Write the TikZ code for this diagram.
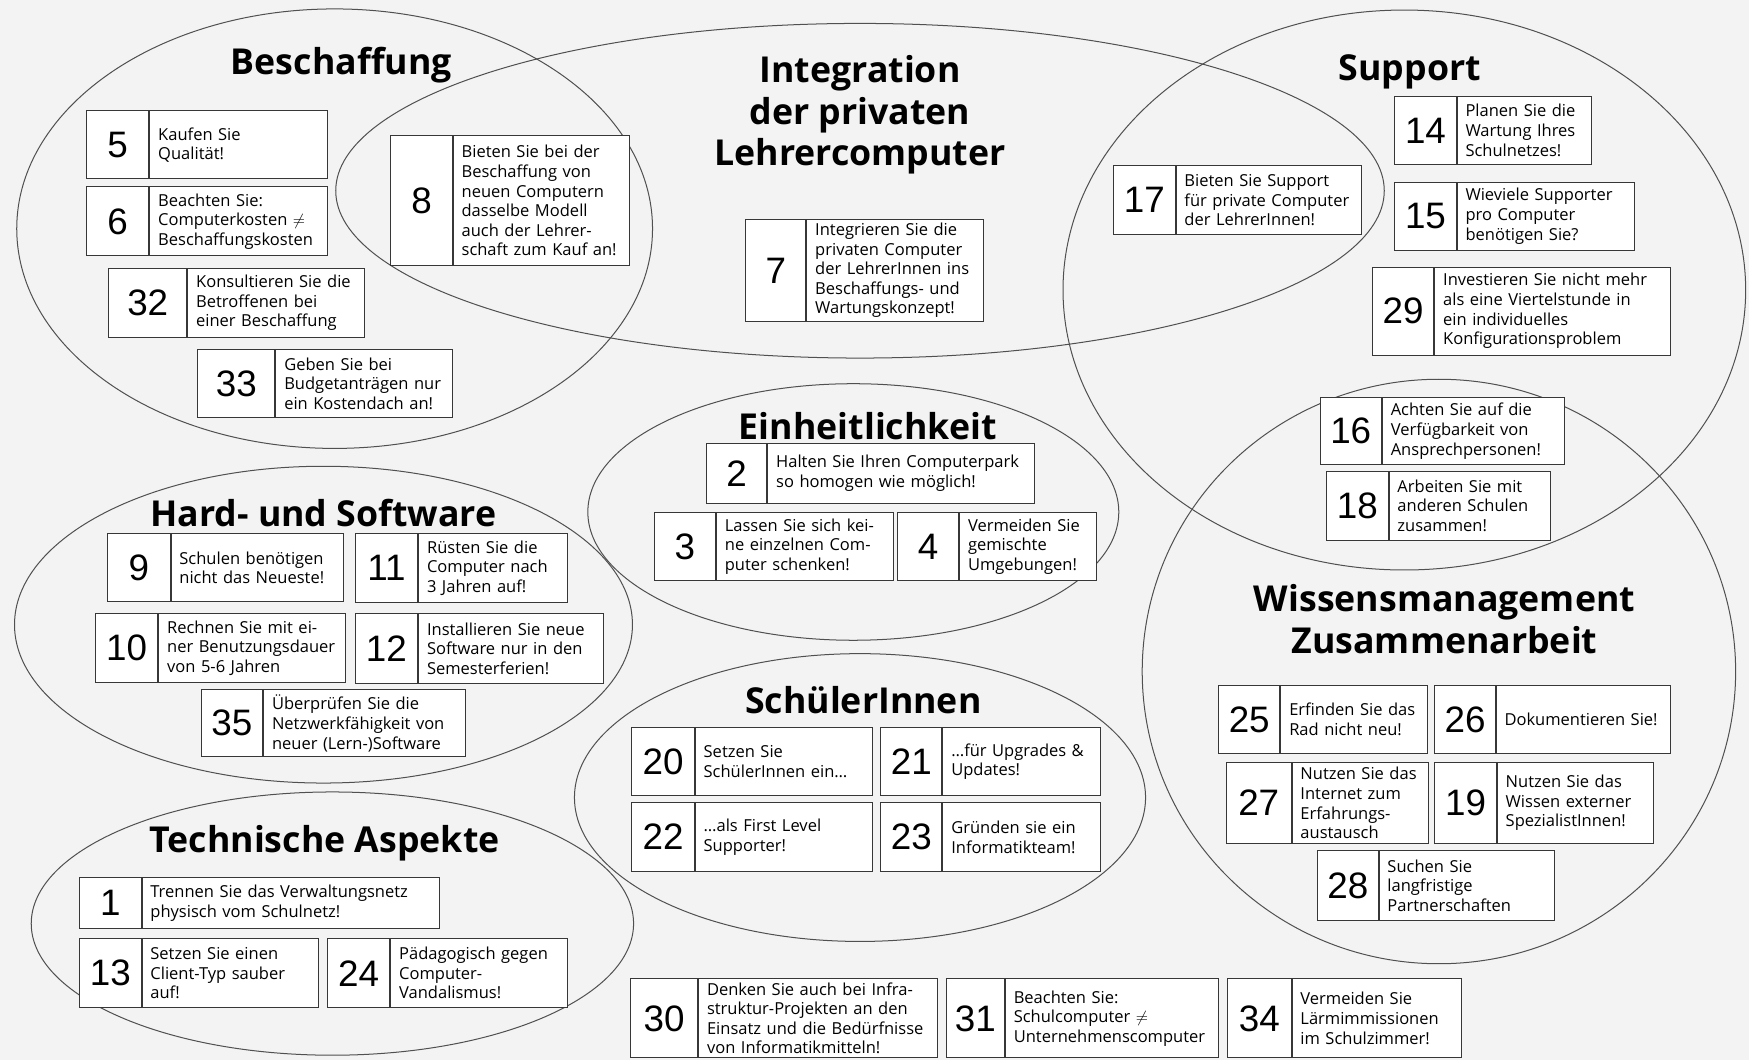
\documentclass[tikz,border=0pt]{standalone}
\usepackage{fontspec}
\setmainfont{Open Sans}
\newfontfamily\numfont{Liberation Sans}
\usetikzlibrary{positioning}
\definecolor{rimgray}{RGB}{80,80,80}
\definecolor{boxgray}{RGB}{55,55,55}
\definecolor{paper}{RGB}{243,243,243}

\begin{document}
\begin{tikzpicture}[x=1pt, y=-1pt,
    group/.style={draw=rimgray, line width=0.9pt},
    heading/.style={font=\fontsize{32}{37}\selectfont\bfseries, align=center},
    numcell/.style={draw=boxgray, fill=white, line width=0.9pt, anchor=north west, inner sep=0pt, font=\numfont\fontsize{33}{33}\selectfont},
    tipcell/.style={draw=boxgray, fill=white, line width=0.9pt, inner xsep=7.5pt, inner ysep=0pt, align=left, font=\fontsize{14.8}{17.6}\selectfont}]
    \useasboundingbox (0,0) rectangle (1568,950);
    \fill[paper] (0,0) rectangle (1568,950);

    % Topic areas
    \draw[group] (300,205) ellipse [x radius=285, y radius=197];
    \draw[group] (771,171) ellipse [x radius=470, y radius=150];
    \draw[group] (1259,260) ellipse [x radius=306, y radius=251];
    \draw[group] (1290,602) ellipse [x radius=266, y radius=262];
    \draw[group] (765,459) ellipse [x radius=238, y radius=115];
    \draw[group] (290,560) ellipse [x radius=277, y radius=142];
    \draw[group] (771,715) ellipse [x radius=256, y radius=129];
    \draw[group] (298,828) ellipse [x radius=270, y radius=118];

    % Headings
    \node[heading] (hbeschaffung) at (306,58) {Beschaffung};
    \node[heading] (hintegration) at (771,103) {Integration\\der privaten\\Lehrercomputer};
    \node[heading] (hsupport) at (1264,64) {Support};
    \node[heading] (heinheit) at (778,382) {Einheitlichkeit};
    \node[heading] (hhardsoft) at (290,460) {Hard- und Software};
    \node[heading] (hwissen) at (1295,555) {Wissensmanagement\\Zusammenarbeit};
    \node[heading] (hschueler) at (774,628) {SchülerInnen};
    \node[heading] (htechnik) at (291,756) {Technische Aspekte};

    % Beschaffung
    \node[numcell, minimum width=56, minimum height=61] (n5) at (77,99) {5};
    \node[tipcell, text width=144pt, minimum height=61, right=0pt of n5] (t5) {Kaufen Sie\\Qualität!};
    \node[numcell, minimum width=56, minimum height=62] (n6) at (77,167) {6};
    \node[tipcell, text width=144pt, minimum height=62, right=0pt of n6] (t6) {Beachten Sie:\\Computerkosten $\neq$\\Beschaffungskosten};
    \node[numcell, minimum width=70, minimum height=62] (n32) at (97,240) {32};
    \node[tipcell, text width=143pt, minimum height=62, right=0pt of n32] (t32) {Konsultieren Sie die\\Betroffenen bei\\einer Beschaffung};
    \node[numcell, minimum width=69, minimum height=61] (n33) at (177,313) {33};
    \node[tipcell, text width=143pt, minimum height=61, right=0pt of n33] (t33) {Geben Sie bei\\Budgetanträgen nur\\ein Kostendach an!};
    \node[numcell, minimum width=55, minimum height=117] (n8) at (350,121) {8};
    \node[tipcell, text width=143pt, minimum height=117, right=0pt of n8] (t8) {Bieten Sie bei der\\Beschaffung von\\neuen Computern\\dasselbe Modell\\auch der Lehrer-\\schaft zum Kauf an!};

    % Integration der privaten Lehrercomputer
    \node[numcell, minimum width=54, minimum height=92] (n7) at (668,196) {7};
    \node[tipcell, text width=143pt, minimum height=92, right=0pt of n7] (t7) {Integrieren Sie die\\privaten Computer\\der LehrerInnen ins\\Beschaffungs- und\\Wartungskonzept!};
    \node[numcell, minimum width=55, minimum height=62] (n17) at (998,148) {17};
    \node[tipcell, text width=151pt, minimum height=62, right=0pt of n17] (t17) {Bieten Sie Support\\für private Computer\\der LehrerInnen!};

    % Support
    \node[numcell, minimum width=55, minimum height=61] (n14) at (1250,86) {14};
    \node[tipcell, text width=105pt, minimum height=61, right=0pt of n14] (t14) {Planen Sie die\\Wartung Ihres\\Schulnetzes!};
    \node[numcell, minimum width=55, minimum height=61] (n15) at (1250,163) {15};
    \node[tipcell, text width=144pt, minimum height=61, right=0pt of n15] (t15) {Wieviele Supporter\\pro Computer\\benötigen Sie?};
    \node[numcell, minimum width=55, minimum height=79] (n29) at (1230,239) {29};
    \node[tipcell, text width=196pt, minimum height=79, right=0pt of n29] (t29) {Investieren Sie nicht mehr\\als eine Viertelstunde in\\ein individuelles\\Konfigurationsproblem};
    \node[numcell, minimum width=55, minimum height=60] (n16) at (1183,356) {16};
    \node[tipcell, text width=148pt, minimum height=60, right=0pt of n16] (t16) {Achten Sie auf die\\Verfügbarkeit von\\Ansprechpersonen!};
    \node[numcell, minimum width=55, minimum height=62] (n18) at (1189,422) {18};
    \node[tipcell, text width=130pt, minimum height=62, right=0pt of n18] (t18) {Arbeiten Sie mit\\anderen Schulen\\zusammen!};

    % Einheitlichkeit
    \node[numcell, minimum width=54, minimum height=54] (n2) at (633,397) {2};
    \node[tipcell, text width=224pt, minimum height=54, right=0pt of n2] (t2) {Halten Sie Ihren Computerpark\\so homogen wie möglich!};
    \node[numcell, minimum width=55, minimum height=61] (n3) at (586,459) {3};
    \node[tipcell, text width=144pt, minimum height=61, right=0pt of n3] (t3) {Lassen Sie sich kei-\\ne einzelnen Com-\\puter schenken!};
    \node[numcell, minimum width=55, minimum height=61] (n4) at (804,459) {4};
    \node[tipcell, text width=108pt, minimum height=61, right=0pt of n4] (t4) {Vermeiden Sie\\gemischte\\Umgebungen!};

    % Hard- und Software
    \node[numcell, minimum width=56, minimum height=61] (n9) at (96,478) {9};
    \node[tipcell, text width=140pt, minimum height=61, right=0pt of n9] (t9) {Schulen benötigen\\nicht das Neueste!};
    \node[numcell, minimum width=56, minimum height=62] (n11) at (318,478) {11};
    \node[tipcell, text width=118pt, minimum height=62, right=0pt of n11] (t11) {Rüsten Sie die\\Computer nach\\3 Jahren auf!};
    \node[numcell, minimum width=56, minimum height=61] (n10) at (85,550) {10};
    \node[tipcell, text width=152pt, minimum height=61, right=0pt of n10] (t10) {Rechnen Sie mit ei-\\ner Benutzungsdauer\\von 5-6 Jahren};
    \node[numcell, minimum width=56, minimum height=62] (n12) at (318,550) {12};
    \node[tipcell, text width=151pt, minimum height=62, right=0pt of n12] (t12) {Installieren Sie neue\\Software nur in den\\Semesterferien!};
    \node[numcell, minimum width=55, minimum height=60] (n35) at (180,618) {35};
    \node[tipcell, text width=166pt, minimum height=60, right=0pt of n35] (t35) {Überprüfen Sie die\\Netzwerkfähigkeit von\\neuer (Lern-)Software};

    % SchuelerInnen
    \node[numcell, minimum width=56, minimum height=61] (n20) at (566,652) {20};
    \node[tipcell, text width=144pt, minimum height=61, right=0pt of n20] (t20) {Setzen Sie\\SchülerInnen ein…};
    \node[numcell, minimum width=55, minimum height=61] (n21) at (789,652) {21};
    \node[tipcell, text width=126pt, minimum height=61, right=0pt of n21] (t21) {…für Upgrades \&\\Updates!};
    \node[numcell, minimum width=56, minimum height=62] (n22) at (566,719) {22};
    \node[tipcell, text width=144pt, minimum height=62, right=0pt of n22] (t22) {…als First Level\\Supporter!};
    \node[numcell, minimum width=55, minimum height=62] (n23) at (789,719) {23};
    \node[tipcell, text width=126pt, minimum height=62, right=0pt of n23] (t23) {Gründen sie ein\\Informatikteam!};

    % Technische Aspekte
    \node[numcell, minimum width=55, minimum height=46] (n1) at (71,786) {1};
    \node[tipcell, text width=252pt, minimum height=46, right=0pt of n1] (t1) {Trennen Sie das Verwaltungsnetz\\physisch vom Schulnetz!};
    \node[numcell, minimum width=55, minimum height=62] (n13) at (71,841) {13};
    \node[tipcell, text width=143pt, minimum height=62, right=0pt of n13] (t13) {Setzen Sie einen\\Client-Typ sauber\\auf!};
    \node[numcell, minimum width=56, minimum height=62] (n24) at (293,841) {24};
    \node[tipcell, text width=143pt, minimum height=62, right=0pt of n24] (t24) {Pädagogisch gegen\\Computer-\\Vandalismus!};

    % Wissensmanagement / Zusammenarbeit
    \node[numcell, minimum width=55, minimum height=61] (n25) at (1092,614) {25};
    \node[tipcell, text width=116pt, minimum height=61, right=0pt of n25] (t25) {Erfinden Sie das\\Rad nicht neu!};
    \node[numcell, minimum width=54, minimum height=61] (n26) at (1286,614) {26};
    \node[tipcell, text width=141pt, minimum height=61, right=0pt of n26] (t26) {Dokumentieren Sie!};
    \node[numcell, minimum width=58, minimum height=73] (n27) at (1099,683) {27};
    \node[tipcell, text width=107pt, minimum height=73, right=0pt of n27] (t27) {Nutzen Sie das\\Internet zum\\Erfahrungs-\\austausch};
    \node[numcell, minimum width=55, minimum height=73] (n19) at (1286,683) {19};
    \node[tipcell, text width=125pt, minimum height=73, right=0pt of n19] (t19) {Nutzen Sie das\\Wissen externer\\SpezialistInnen!};
    \node[numcell, minimum width=54, minimum height=63] (n28) at (1181,762) {28};
    \node[tipcell, text width=142pt, minimum height=63, right=0pt of n28] (t28) {Suchen Sie\\langfristige\\Partnerschaften};

    % ohne Gruppe
    \node[numcell, minimum width=60, minimum height=71] (n30) at (565,877) {30};
    \node[tipcell, text width=199pt, minimum height=71, right=0pt of n30] (t30) {Denken Sie auch bei Infra-\\struktur-Projekten an den\\Einsatz und die Bedürfnisse\\von Informatikmitteln!};
    \node[numcell, minimum width=52, minimum height=71] (n31) at (848,877) {31};
    \node[tipcell, text width=176pt, minimum height=71, right=0pt of n31] (t31) {Beachten Sie:\\Schulcomputer $\neq$\\Unternehmenscomputer};
    \node[numcell, minimum width=57, minimum height=71] (n34) at (1100,877) {34};
    \node[tipcell, text width=137pt, minimum height=71, right=0pt of n34] (t34) {Vermeiden Sie\\Lärmimmissionen\\im Schulzimmer!};
\end{tikzpicture}
\end{document}
